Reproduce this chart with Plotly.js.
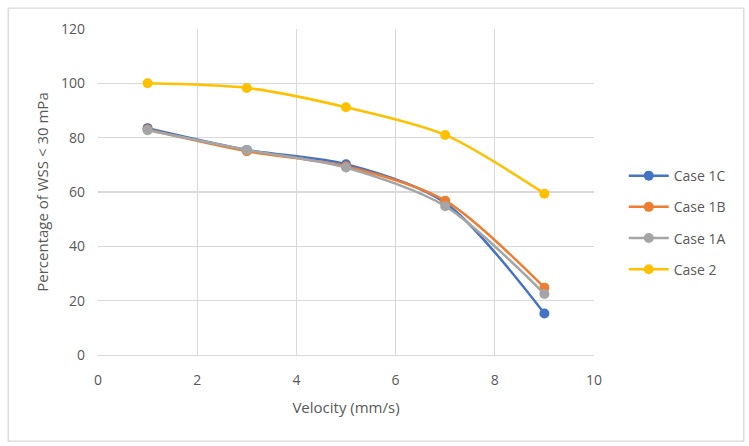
<!DOCTYPE html>
<html><head><meta charset="utf-8">
<script src="https://cdn.plot.ly/plotly-3.0.1.min.js"></script>
<style>html,body{margin:0;padding:0;background:#fff;}#chart{width:749px;height:446px;}</style>
</head><body><div id="chart"></div>
<script>
const velocity = [1, 3, 5, 7, 9];
const case1C = [83.5, 75.5, 70.2, 56, 15.3];
const case1B = [83, 75, 69.5, 56.8, 24.8];
const case1A = [82.7, 75.5, 69, 54.8, 22.5];
const case2 = [100, 98.3, 91.2, 81, 59.4];
const seriesNames = ['Case 1C', 'Case 1B', 'Case 1A', 'Case 2'];
const seriesColors = ['#4472C4', '#ED7D31', '#A5A5A5', '#FFC000'];
const seriesValues = [case1C, case1B, case1A, case2];

const traces = seriesValues.map((vals, i) => ({
  x: velocity, y: vals, name: seriesNames[i], legendgroup: 'g' + i, type: 'scatter', mode: 'lines+markers',
  line: {color: seriesColors[i], width: 2.5, shape: 'spline', smoothing: 0.8},
  marker: {color: seriesColors[i], size: 10}
}));

const fam = 'Open Sans, Liberation Sans, sans-serif';
const layout = {
  width: 749, height: 446,
  margin: {l: 98, r: 155, t: 29, b: 91},
  paper_bgcolor: '#fff', plot_bgcolor: '#fff',
  font: {family: fam, size: 14, color: '#595959'},
  showlegend: true,
  legend: {x: 1.06, y: 0.598, xanchor: 'left', yanchor: 'top', font: {family: fam, size: 14, color: '#595959'}, tracegroupgap: 10, itemwidth: 40},
  xaxis: {range: [0, 10], dtick: 2, tick0: 0, showgrid: true, gridcolor: '#D9D9D9', gridwidth: 1.3,
    zeroline: false, showline: true, linecolor: '#D9D9D9', linewidth: 1.3, ticks: '', ticklen: 0,
    ticklabelstandoff: 12,
    tickfont: {size: 14, color: '#595959'},
    title: {text: 'Velocity (mm/s)', font: {size: 15, color: '#595959'}, standoff: 14}},
  yaxis: {range: [0, 120], dtick: 20, tick0: 0, showgrid: true, gridcolor: '#D9D9D9', gridwidth: 1.3,
    zeroline: false, showline: false, ticks: '', ticklen: 0,
    ticklabelstandoff: 12,
    tickfont: {size: 14, color: '#595959'},
    title: {text: 'Percentage of WSS < 30 mPa', font: {size: 15, color: '#595959'}, standoff: 8}},
  shapes: [{type: 'rect', xref: 'paper', yref: 'paper', x0: -0.181, x1: 1.302, y0: -0.264, y1: 1.064,
    line: {color: '#D9D9D9', width: 1.3}, fillcolor: 'rgba(0,0,0,0)', layer: 'below'}]
};
Plotly.newPlot('chart', traces, layout, {displayModeBar: false, staticPlot: true});
</script></body></html>
